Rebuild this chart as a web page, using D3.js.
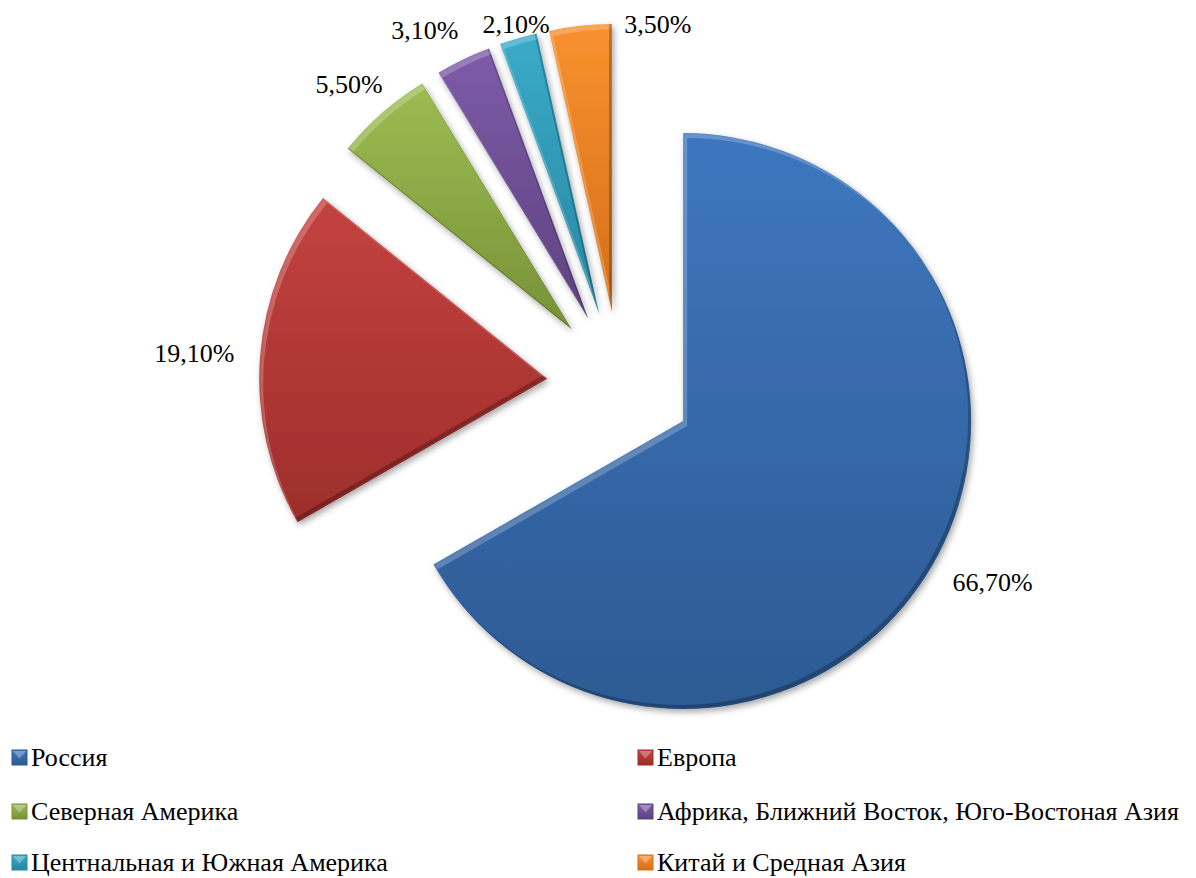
<!DOCTYPE html>
<html>
<head>
<meta charset="utf-8">
<script src="https://cdn.jsdelivr.net/npm/d3@7"></script>
<style>
  html, body { margin: 0; padding: 0; background: #ffffff; }
  svg { display: block; }
</style>
</head>
<body>
<script>
// Regions and their shares of the total, in percent
const categories = [
  "Россия",
  "Европа",
  "Северная Америка",
  "Африка, Ближний Восток, Юго-Востоная Азия",
  "Центнальная и Южная Америка",
  "Китай и Средная Азия"
];
const shares = [66.7, 19.1, 5.5, 3.1, 2.1, 3.5];

// Slice colours: top and bottom stops of each gradient
const topColors    = ["#3e77bf", "#c4423f", "#9cbd52", "#7e5ba9", "#39abc9", "#f8912f"];
const bottomColors = ["#2d5a93", "#9d2e2b", "#779136", "#5c427f", "#2886a0", "#d66e19"];

// Hand-tuned label shifts so small labels stay clear of each other
const labelNudge = [[2, -3], [1, 0], [7, 1], [-12, 7], [15, 24], [84, 38]];

const W = 1196, H = 878;
const cx = 620, cy = 384.5, R = 288, explode = 73, labelR = 315;
const FONT = '"Liberation Serif", "Times New Roman", "DejaVu Serif", serif';

const svg = d3.select("body").append("svg").attr("width", W).attr("height", H);
const defs = svg.append("defs");

const data = categories.map((c, i) => ({ name: c, v: shares[i], i }));

const pie = d3.pie().sort(null).value(d => d.v).startAngle(0).endAngle(2 * Math.PI);
const arc = d3.arc().innerRadius(0).outerRadius(R);
const arcs = pie(data);

// Gradients
data.forEach((d, i) => {
  const g = defs.append("linearGradient").attr("id", "grad" + i)
    .attr("x1", 0).attr("y1", 0).attr("x2", 0).attr("y2", 1);
  g.append("stop").attr("offset", "0%").attr("stop-color", topColors[i]);
  g.append("stop").attr("offset", "100%").attr("stop-color", bottomColors[i]);
});

// Soft drop shadow
const sh = defs.append("filter").attr("id", "shadow")
  .attr("x", "-20%").attr("y", "-20%").attr("width", "140%").attr("height", "140%");
sh.append("feDropShadow").attr("dx", 2).attr("dy", 3).attr("stdDeviation", 3)
  .attr("flood-color", "#000").attr("flood-opacity", 0.35);

const soft = defs.append("filter").attr("id", "soft")
  .attr("x", "-10%").attr("y", "-10%").attr("width", "120%").attr("height", "120%");
soft.append("feGaussianBlur").attr("stdDeviation", 1.2);

const pieG = svg.append("g").attr("transform", `translate(${cx},${cy})`);

arcs.forEach((a, i) => {
  const mid = (a.startAngle + a.endAngle) / 2;
  const ox = Math.sin(mid) * explode, oy = -Math.cos(mid) * explode;
  const path = arc(a);

  // bevel masks: highlight on upper-left rims, shade on lower-right rims
  const mh = defs.append("mask").attr("id", "hl" + i).attr("maskUnits", "userSpaceOnUse")
    .attr("x", -W).attr("y", -H).attr("width", 2 * W).attr("height", 2 * H);
  mh.append("path").attr("d", path).attr("fill", "#fff");
  mh.append("path").attr("d", path).attr("fill", "#000").attr("transform", "translate(4,5)");
  const ms = defs.append("mask").attr("id", "sd" + i).attr("maskUnits", "userSpaceOnUse")
    .attr("x", -W).attr("y", -H).attr("width", 2 * W).attr("height", 2 * H);
  ms.append("path").attr("d", path).attr("fill", "#fff");
  ms.append("path").attr("d", path).attr("fill", "#000").attr("transform", "translate(-3,-4)");

  const g = pieG.append("g").attr("transform", `translate(${ox},${oy})`);
  g.append("path").attr("d", path).attr("fill", `url(#grad${i})`).attr("filter", "url(#shadow)");
  g.append("g").attr("mask", `url(#hl${i})`)
    .append("path").attr("d", path).attr("fill", "#ffffff").attr("opacity", 0.22).attr("filter", "url(#soft)");
  g.append("g").attr("mask", `url(#sd${i})`)
    .append("path").attr("d", path).attr("fill", "#000000").attr("opacity", 0.25).attr("filter", "url(#soft)");
});

// Data labels
const fmt = d3.formatLocale({ decimal: ",", thousands: " ", grouping: [3], currency: ["", ""] }).format(".2f");
const lblG = svg.append("g").attr("font-size", 26).style("font-family", FONT).attr("fill", "#000");
arcs.forEach((a, i) => {
  const mid = (a.startAngle + a.endAngle) / 2;
  const s = Math.sin(mid), c = -Math.cos(mid);
  const t = lblG.append("text").attr("text-anchor", "middle").attr("dy", "0.35em")
    .text(fmt(a.data.v) + "%");
  const w = t.node().getComputedTextLength(), h = 26;
  const px = cx + s * explode + s * labelR;
  const py = cy + c * explode + c * labelR;
  const x = px + s * w / 2 + labelNudge[i][0];
  const y = py + c * h / 2 + labelNudge[i][1];
  t.attr("x", x).attr("y", y);
});

// Legend: two columns, three rows (y = text baselines)
const legCols = [12, 638], legBase = [766, 820, 871], sq = 15;
const legG = svg.append("g").attr("font-size", 26).style("font-family", FONT).attr("fill", "#000");
data.forEach((d, i) => {
  const x = legCols[i % 2], b = legBase[Math.floor(i / 2)];
  const top = b - 16;
  legG.append("rect").attr("x", x).attr("y", top).attr("width", sq).attr("height", sq)
    .attr("fill", `url(#grad${i})`).attr("stroke", bottomColors[i]).attr("stroke-width", 1);
  legG.append("path")
    .attr("d", `M${x + 1},${top + 1}L${x + sq - 1},${top + 1}L${x + sq / 2},${top + sq / 2 + 1}Z`)
    .attr("fill", "#ffffff").attr("opacity", 0.3);
  legG.append("text").attr("x", x + sq + 4).attr("y", b).text(d.name);
});
</script>
</body>
</html>
